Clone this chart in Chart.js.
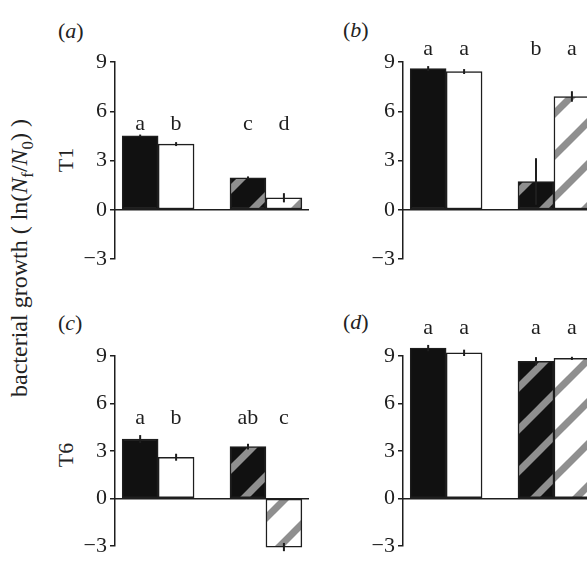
<!DOCTYPE html>
<html>
<head>
<meta charset="utf-8">
<script src="https://cdn.jsdelivr.net/npm/chart.js@4.4.1/dist/chart.umd.min.js"></script>
<style>
  html, body { margin: 0; padding: 0; background: #fff; }
  body { width: 587px; height: 562px; overflow: hidden; position: relative;
         font-family: 'Liberation Serif', 'Times New Roman', serif; color: #222; }
  canvas { position: absolute; }
  .tag { position: absolute; font-size: 22px; line-height: 1; white-space: nowrap; }
  .rot { transform: translate(-50%, -50%) rotate(-90deg); }
  .ylab { font-size: 24px; }
  sub { font-size: 70%; }
</style>
</head>
<body>
<div class="tag rot ylab" style="left:22px; top:258px;">bacterial growth ( ln(<i>N</i><sub>f</sub>/<i>N</i><sub>0</sub>) )</div>
<div class="tag rot" style="left:66px; top:160px;">T1</div>
<div class="tag rot" style="left:66px; top:455px;">T6</div>
<div class="tag" style="left:58px; top:20px;">(<i>a</i>)</div>
<div class="tag" style="left:343px; top:19px;">(<i>b</i>)</div>
<div class="tag" style="left:58px; top:312px;">(<i>c</i>)</div>
<div class="tag" style="left:343px; top:311px;">(<i>d</i>)</div>

<canvas id="chartA" width="310" height="280" style="left:0; top:0;"></canvas>
<canvas id="chartB" width="310" height="280" style="left:290px; top:0;"></canvas>
<canvas id="chartC" width="310" height="282" style="left:0; top:280px;"></canvas>
<canvas id="chartD" width="310" height="282" style="left:290px; top:280px;"></canvas>

<script>
// tick labels shared by all panels
const yTicks = [-3, 0, 3, 6, 9];

// bar order in every panel: black, white, black hatched, white hatched
// (a) T1, first column
const growthA = [4.5, 4.0, 1.95, 0.73];
const errorA = [0.08, 0.12, 0.08, 0.28];
const lettersA = ['a', 'b', 'c', 'd'];

// (b) T1, second column
const growthB = [8.6, 8.42, 1.72, 6.9];
const errorB = [0.15, 0.15, 1.42, 0.32];
const lettersB = ['a', 'a', 'b', 'a'];

// (c) T6, first column
const growthC = [3.75, 2.6, 3.27, -3.08];
const errorC = [0.25, 0.22, 0.18, 0.26];
const lettersC = ['a', 'b', 'ab', 'c'];

// (d) T6, second column
const growthD = [9.5, 9.2, 8.67, 8.85];
const errorD = [0.2, 0.2, 0.26, 0.1];
const lettersD = ['a', 'a', 'a', 'a'];

const INK = '#1e1e1e';
const FAMILY = '"Liberation Serif", "Times New Roman", serif';

// diagonal grey stripes over a base colour
function hatch(base) {
  const P = 42;
  const c = document.createElement('canvas');
  c.width = c.height = P;
  const g = c.getContext('2d');
  g.fillStyle = base;
  g.fillRect(0, 0, P, P);
  g.strokeStyle = '#8f8f8f';
  g.lineWidth = 7;
  [[0, P, P, 0], [-P / 2, P / 2, P / 2, -P / 2], [P / 2, 1.5 * P, 1.5 * P, P / 2]].forEach(l => {
    g.beginPath();
    g.moveTo(l[0], l[1]);
    g.lineTo(l[2], l[3]);
    g.stroke();
  });
  return g.createPattern(c, 'repeat');
}

const fills = ['#111', '#fff', hatch('#111'), hatch('#fff')];

// slot on the x axis: two pairs with one empty slot between them
function slotOf(i) {
  return i < 2 ? i + 1 : i + 2;
}

// error bars and significance letters
function marksPlugin(values, errors, letters, letterLevel) {
  return {
    id: 'marks',
    afterDatasetsDraw(chart) {
      const ctx = chart.ctx;
      const y = chart.scales.y;
      const bars = chart.getDatasetMeta(0).data;
      ctx.save();
      ctx.strokeStyle = INK;
      ctx.lineWidth = 2;
      bars.forEach((bar, i) => {
        ctx.beginPath();
        ctx.moveTo(bar.x, y.getPixelForValue(values[i] + errors[i]));
        ctx.lineTo(bar.x, y.getPixelForValue(values[i] - errors[i]));
        ctx.stroke();
      });
      ctx.fillStyle = INK;
      ctx.font = '22px ' + FAMILY;
      ctx.textAlign = 'center';
      ctx.textBaseline = 'alphabetic';
      const ly = y.getPixelForValue(letterLevel);
      bars.forEach((bar, i) => ctx.fillText(letters[i], bar.x, ly));
      ctx.restore();
    }
  };
}

function drawPanel(id, values, errors, letters, letterLevel, padding) {
  new Chart(document.getElementById(id), {
    type: 'bar',
    data: {
      datasets: [{
        data: values.map((v, i) => ({ x: slotOf(i), y: v })),
        backgroundColor: fills,
        borderColor: INK,
        borderWidth: 1.5,
        borderSkipped: false,
        barPercentage: 1,
        categoryPercentage: 1,
        clip: false
      }]
    },
    options: {
      responsive: false,
      animation: false,
      layout: { padding: padding },
      plugins: {
        legend: { display: false },
        tooltip: { enabled: false }
      },
      scales: {
        x: {
          type: 'linear',
          min: 0.3,
          max: 5.67,
          position: { y: 0 },
          afterBuildTicks: s => { s.ticks = []; },
          grid: { display: false },
          ticks: { display: false },
          border: { display: true, color: INK, width: 1.5 }
        },
        y: {
          min: -3,
          max: 9,
          afterBuildTicks: s => { s.ticks = yTicks.map(v => ({ value: v })); },
          afterFit: s => { s.width = 40; },
          grid: { drawOnChartArea: false, drawTicks: true, tickLength: 5, color: INK, lineWidth: 1.5 },
          border: { display: true, color: INK, width: 1.5 },
          ticks: {
            padding: 3,
            color: INK,
            font: { family: FAMILY, size: 22 },
            callback: v => (v < 0 ? '\u2212' + Math.abs(v) : String(v))
          }
        }
      }
    },
    plugins: [marksPlugin(values, errors, letters, letterLevel)]
  });
}

drawPanel('chartA', growthA, errorA, lettersA, 4.87, { left: 75, right: 2, top: 62, bottom: 21 });
drawPanel('chartB', growthB, errorB, lettersB, 9.45, { left: 73, right: 4, top: 62, bottom: 21 });
drawPanel('chartC', growthC, errorC, lettersC, 4.67, { left: 75, right: 2, top: 76, bottom: 8 });
drawPanel('chartD', growthD, errorD, lettersD, 10.36, { left: 73, right: 4, top: 76, bottom: 8 });
</script>
</body>
</html>
